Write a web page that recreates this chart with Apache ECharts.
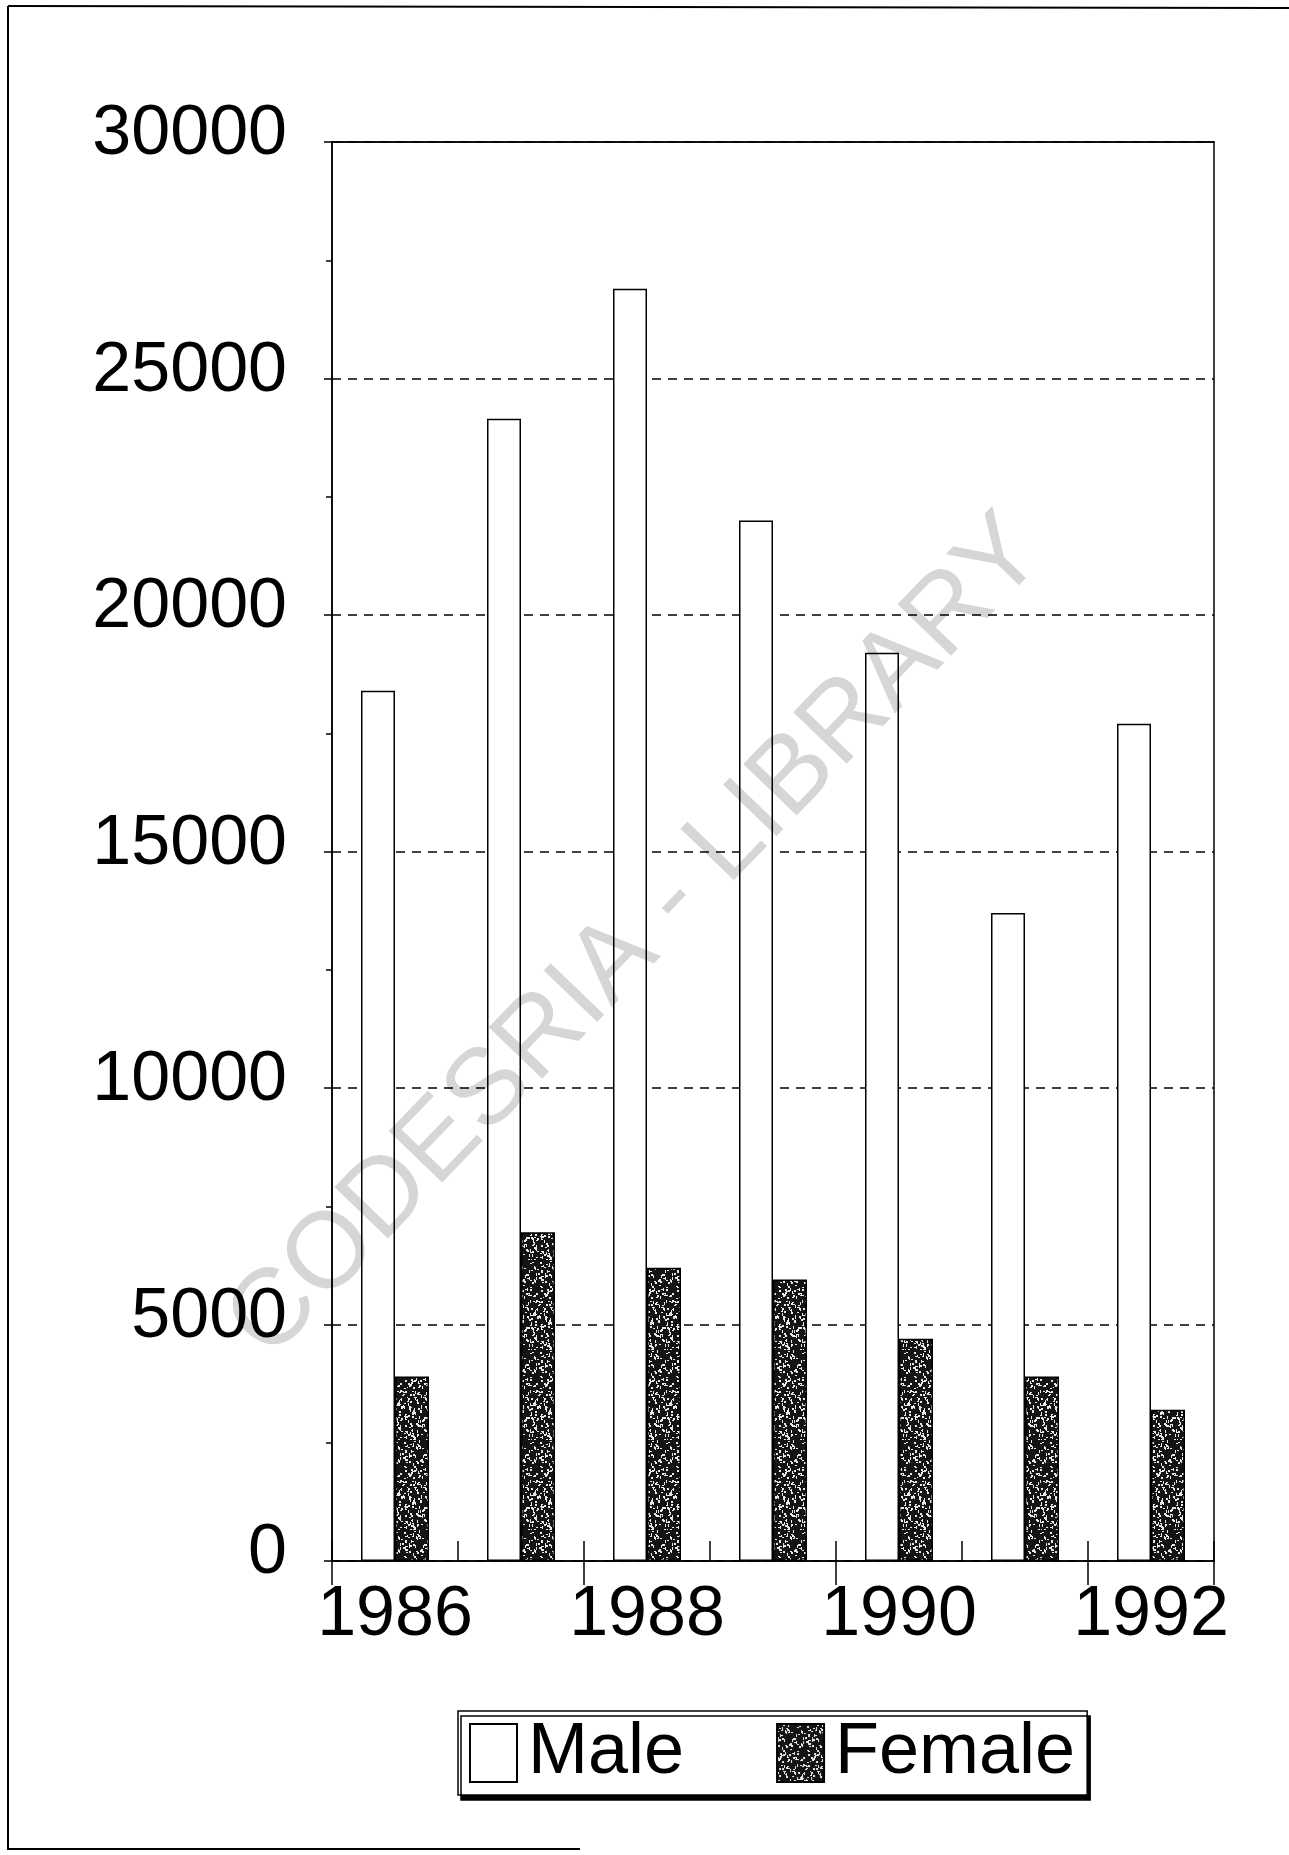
<!DOCTYPE html>
<html>
<head>
<meta charset="utf-8">
<script src="https://cdn.jsdelivr.net/npm/echarts@6/dist/echarts.min.js"></script>
<style>
  html, body { margin: 0; padding: 0; background: #fff; }
  #chart { width: 1289px; height: 1855px; }
</style>
</head>
<body>
<div id="chart"></div>
<script>
// Enrolment by sex, 1986-1992
const years = ['1986', '1987', '1988', '1989', '1990', '1991', '1992'];
const male = [18400, 24150, 26900, 22000, 19200, 13700, 17700];
const female = [3900, 6950, 6200, 5950, 4700, 3900, 3200];
const yTicks = [0, 5000, 10000, 15000, 20000, 25000, 30000];

const FONT = 'Liberation Sans, Arial, sans-serif';

// Dark mottled fill for the female bars (deterministic speckle texture)
function speckleTexture() {
  const w = 34, h = 90;
  const c = document.createElement('canvas');
  c.width = w; c.height = h;
  const g = c.getContext('2d');
  g.fillStyle = '#141414';
  g.fillRect(0, 0, w, h);
  const hash = (n) => {
    const s = Math.sin(n * 12.9898 + 78.233) * 43758.5453;
    return s - Math.floor(s);
  };
  g.fillStyle = '#e8e8e8';
  for (let i = 0; i < 260; i++) {
    const x = Math.floor(hash(i * 3 + 1) * w);
    const y = Math.floor(hash(i * 3 + 2) * h);
    const k = hash(i * 3 + 3);
    if (k < 0.4) g.fillRect(x, y, 2, 1);
    else if (k < 0.7) g.fillRect(x, y, 1, 3);
    else g.fillRect(x, y, 2, 2);
  }
  return c;
}
const femaleFill = { image: speckleTexture(), repeat: 'repeat' };

const chart = echarts.init(document.getElementById('chart'), null, { renderer: 'canvas' });

chart.setOption({
  backgroundColor: '#ffffff',
  animation: false,
  textStyle: { fontFamily: FONT, color: '#000' },
  grid: {
    left: 332, top: 142, width: 882, height: 1419,
    show: true, borderColor: '#000', borderWidth: 1.5, backgroundColor: 'transparent'
  },
  legend: {
    left: 458, top: 1711,
    orient: 'horizontal',
    itemWidth: 47, itemHeight: 58, itemGap: 92,
    padding: [6, 12, 6, 11],
    backgroundColor: '#fff',
    borderColor: '#000', borderWidth: 1.5,
    shadowColor: '#000', shadowBlur: 0, shadowOffsetX: 3, shadowOffsetY: 5,
    textStyle: { fontFamily: FONT, fontSize: 72, color: '#000', lineHeight: 72, padding: [0, 0, 0, 6] },
    data: [
      { name: 'Male', icon: 'rect' },
      { name: 'Female', icon: 'rect' }
    ]
  },
  xAxis: [
    {
      type: 'category', data: years, gridIndex: 0, position: 'bottom',
      axisLine: { show: true, lineStyle: { color: '#000', width: 1.5 } },
      axisTick: { show: true, length: 24, lineStyle: { color: '#000', width: 1.5 } },
      axisLabel: { interval: 1, fontFamily: FONT, fontSize: 70, color: '#000', margin: 20, lineHeight: 70 },
      splitLine: { show: false }
    },
    {
      // inward half of the crossing category ticks
      type: 'category', data: years, gridIndex: 0, position: 'bottom',
      axisLine: { show: false },
      axisTick: { show: true, inside: true, length: 20, lineStyle: { color: '#000', width: 1.5 } },
      axisLabel: { show: false },
      splitLine: { show: false }
    },
    {
      // solid top edge of the plot frame
      type: 'category', data: years, gridIndex: 0, position: 'top', z: 5,
      axisLine: { show: true, lineStyle: { color: '#000', width: 1.5 } },
      axisTick: { show: false },
      axisLabel: { show: false },
      splitLine: { show: false }
    }
  ],
  yAxis: {
    type: 'value', min: yTicks[0], max: yTicks[yTicks.length - 1], interval: 5000,
    axisLine: { show: true, lineStyle: { color: '#000', width: 1.5 } },
    axisTick: { show: true, length: 8, lineStyle: { color: '#000', width: 1.5 } },
    minorTick: { show: true, splitNumber: 2, length: 6, lineStyle: { color: '#000', width: 1.5 } },
    axisLabel: {
      fontFamily: FONT, fontSize: 70, color: '#000', margin: 45,
      verticalAlign: 'bottom', lineHeight: 14,
      formatter: (v) => String(v)
    },
    splitLine: { show: true, lineStyle: { color: '#000', width: 1.5, type: [9, 7] } }
  },
  series: [
    {
      name: 'Male', type: 'bar', xAxisIndex: 0, data: male, barWidth: 34, barGap: '0%',
      itemStyle: { color: '#ffffff', borderColor: '#000', borderWidth: 1.5 }
    },
    {
      name: 'Female', type: 'bar', xAxisIndex: 0, data: female, barWidth: 34, barGap: '0%',
      itemStyle: { color: femaleFill, borderColor: '#000', borderWidth: 1.5 }
    }
  ],
  graphic: [
    // page frame
    { type: 'line', shape: { x1: 8, y1: 6, x2: 8, y2: 1850 }, style: { stroke: '#000', lineWidth: 2 } },
    { type: 'line', shape: { x1: 8, y1: 6, x2: 1289, y2: 8 }, style: { stroke: '#000', lineWidth: 2 } },
    { type: 'line', shape: { x1: 8, y1: 1849, x2: 580, y2: 1849 }, style: { stroke: '#000', lineWidth: 2 } },
    // library stamp
    {
      type: 'text', x: 637, y: 938, rotation: 46 * Math.PI / 180, z: 100,
      style: {
        text: 'CODESRIA - LIBRARY',
        font: '108px ' + FONT,
        fill: 'rgba(0,0,0,0.16)',
        textAlign: 'center', textVerticalAlign: 'middle'
      }
    }
  ]
});
</script>
</body>
</html>
